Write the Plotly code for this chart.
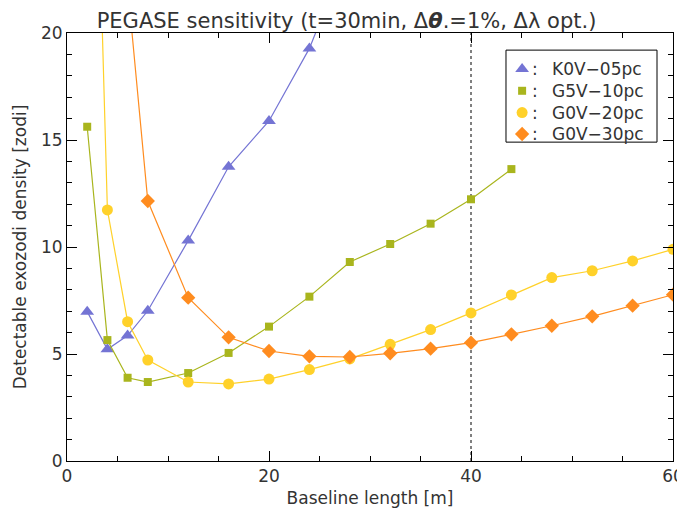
import plotly.graph_objects as go

# ---- data ----
k0v_x = [2, 4, 6, 8, 12, 16, 20, 24, 28]
k0v_y = [6.98, 5.22, 5.86, 7.02, 10.3, 13.75, 15.89, 19.28, 24.0]

g5v_x = [2, 4, 6, 8, 12, 16, 20, 24, 28, 32, 36, 40, 44]
g5v_y = [15.62, 5.65, 3.89, 3.69, 4.11, 5.05, 6.28, 7.68, 9.3, 10.14, 11.09, 12.23, 13.64]

g0v20_x = [2, 4, 6, 8, 12, 16, 20, 24, 28, 32, 36, 40, 44, 48, 52, 56, 60]
g0v20_y = [45.0, 11.73, 6.51, 4.72, 3.69, 3.6, 3.83, 4.27, 4.77, 5.45, 6.14, 6.92, 7.76, 8.57, 8.89, 9.35, 9.89]

g0v30_x = [6, 8, 12, 16, 20, 24, 28, 32, 36, 40, 44, 48, 52, 56, 60]
g0v30_y = [22.2, 12.15, 7.63, 5.78, 5.14, 4.89, 4.86, 5.03, 5.25, 5.53, 5.92, 6.32, 6.76, 7.26, 7.77]

series_names = ["K0V\u221205pc", "G5V\u221210pc", "G0V\u221220pc", "G0V\u221230pc"]
reference_baseline = 40

FONT = "DejaVu Sans"
TXT = "#333333"

series = [
    (k0v_x, k0v_y, "#7474d4", "triangle-up", 12),
    (g5v_x, g5v_y, "#a9b51d", "square", 8),
    (g0v20_x, g0v20_y, "#ffd12a", "circle", 11),
    (g0v30_x, g0v30_y, "#ff8c1f", "diamond", 11),
]

fig = go.Figure()
for (xs, ys, col, sym, sz), name in zip(series, series_names):
    fig.add_trace(go.Scatter(
        x=xs, y=ys, mode="lines+markers", showlegend=False, name=name,
        line=dict(color=col, width=1.2),
        marker=dict(color=col, symbol=sym, size=sz, line=dict(width=0)),
    ))

fig.add_shape(type="line", xref="x", yref="paper",
              x0=reference_baseline, x1=reference_baseline, y0=0, y1=1,
              line=dict(color="black", width=1, dash="dot"), layer="below")

# ---- hand-drawn legend box (layout, in plot-area fractions) ----
leg_x0, leg_x1, leg_y0, leg_y1 = 0.7244, 0.9736, 0.745, 0.960
leg_marker_x = 0.751
leg_colon_x = 0.772
leg_text_x = 0.797
leg_rows = [0.916, 0.865, 0.814, 0.764]

fig.add_shape(type="rect", xref="paper", yref="paper",
              x0=leg_x0, x1=leg_x1, y0=leg_y0, y1=leg_y1,
              line=dict(color="black", width=1), fillcolor="white", layer="below")

for (xs, ys, col, sym, sz), name, ry in zip(series, series_names, leg_rows):
    fig.add_trace(go.Scatter(
        x=[leg_marker_x], y=[ry], xaxis="x2", yaxis="y2", mode="markers",
        showlegend=False, hoverinfo="skip",
        marker=dict(color=col, symbol=sym, size=sz, line=dict(width=0)),
    ))
    fig.add_annotation(x=leg_colon_x, y=ry, xref="paper", yref="paper", text=":",
                       showarrow=False, xanchor="center", yanchor="middle",
                       font=dict(family=FONT, size=17, color=TXT))
    fig.add_annotation(x=leg_text_x, y=ry, xref="paper", yref="paper", text=name,
                       showarrow=False, xanchor="left", yanchor="middle",
                       font=dict(family=FONT, size=17, color=TXT))

axis_common = dict(
    showgrid=False, zeroline=False, showline=True, linecolor="black", linewidth=1,
    mirror="allticks", ticks="inside", ticklen=10, tickcolor="black", tickwidth=1,
    tickfont=dict(family=FONT, size=17, color=TXT), automargin=False,
)

fig.update_layout(
    xaxis=dict(range=[0, 60], dtick=20, tick0=0,
               minor=dict(dtick=5, ticks="inside", ticklen=5, tickcolor="black"),
               title=dict(text="Baseline length [m]", font=dict(family=FONT, size=17, color=TXT), standoff=6),
               **axis_common),
    yaxis=dict(range=[0, 20], dtick=5, tick0=0,
               minor=dict(dtick=1, ticks="inside", ticklen=5, tickcolor="black"),
               title=dict(text="Detectable exozodi density [zodi]", font=dict(family=FONT, size=17, color=TXT), standoff=10),
               **axis_common),
    xaxis2=dict(range=[0, 1], overlaying="x", visible=False, fixedrange=True),
    yaxis2=dict(range=[0, 1], overlaying="y", visible=False, fixedrange=True),
)

# page body has an 8px margin; size the figure so it fits the 685x522 window
fig.update_layout(
    width=677, height=506,
    margin=dict(l=59, r=12, t=25, b=53),
    paper_bgcolor="white", plot_bgcolor="white",
    showlegend=False,
    title=dict(text="PEGASE sensitivity (t=30min, \u0394<b><i>\u03b8</i></b>.=1%, \u0394\u03bb opt.)",
               x=0.5, xanchor="center", xref="container", y=0.975, yanchor="middle", yref="container",
               font=dict(family=FONT, size=21, color=TXT)),
    font=dict(family=FONT),
)

fig.write_html("out.html")
